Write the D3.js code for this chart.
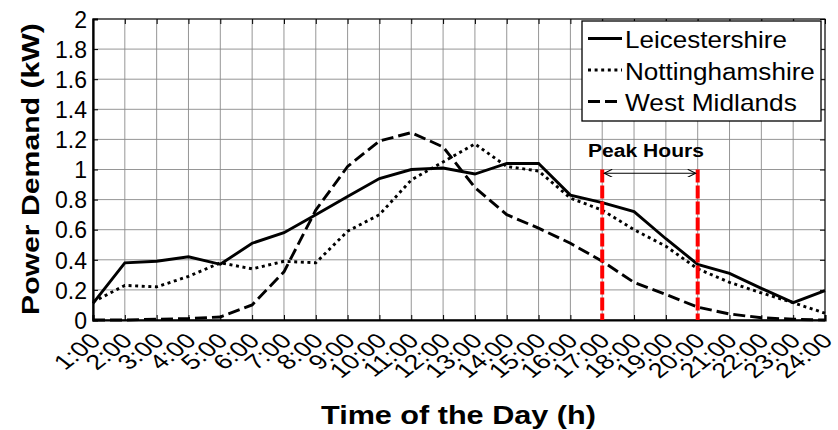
<!DOCTYPE html>
<html><head><meta charset="utf-8">
<script src="https://cdn.jsdelivr.net/npm/d3@7"></script>
<style>body{margin:0;background:#fff}svg{display:block}text{font-family:"Liberation Sans",Arial,sans-serif}</style>
</head><body><svg id="c" width="838" height="430"></svg>
<script>
const hours = ["1:00","2:00","3:00","4:00","5:00","6:00","7:00","8:00","9:00","10:00","11:00","12:00","13:00","14:00","15:00","16:00","17:00","18:00","19:00","20:00","21:00","22:00","23:00","24:00"];
const leicestershire = [0.11,0.38,0.39,0.42,0.37,0.51,0.58,0.70,0.82,0.94,1.00,1.01,0.97,1.04,1.04,0.83,0.78,0.72,0.54,0.37,0.31,0.21,0.115,0.195];
const nottinghamshire = [0.12,0.23,0.22,0.29,0.38,0.34,0.39,0.38,0.59,0.70,0.93,1.05,1.17,1.02,0.99,0.81,0.73,0.60,0.49,0.34,0.25,0.18,0.115,0.045];
const westMidlands = [0.0,0.0,0.005,0.01,0.02,0.10,0.32,0.73,1.02,1.19,1.245,1.15,0.88,0.70,0.61,0.51,0.39,0.25,0.17,0.085,0.04,0.015,0.005,0.0];
const yTicks = [0,0.2,0.4,0.6,0.8,1,1.2,1.4,1.6,1.8,2];
const peakStart = "17:00", peakEnd = "20:00";
const seriesNames = ["Leicestershire","Nottinghamshire","West Midlands"];

const svg = d3.select("#c");
const L=93, R=825, T=19, B=320;
const x = d3.scalePoint().domain(hours).range([L,R]);
const y = d3.scaleLinear().domain([0,2]).range([B,T]);

// stretch text horizontally (in its own frame) to a target length
function fit(sel, pre, target){
  const w = sel.node().getComputedTextLength();
  sel.attr("transform", `${pre} scale(${target/w},1)`);
}

// grid
const g = svg.append("g");
g.selectAll(".vg").data(hours).join("line").attr("x1",d=>x(d)).attr("x2",d=>x(d)).attr("y1",T).attr("y2",B).attr("stroke","#8a8a8a").attr("stroke-width",0.9);
g.selectAll(".hg").data(yTicks).join("line").attr("x1",L).attr("x2",R).attr("y1",d=>y(d)).attr("y2",d=>y(d)).attr("stroke","#8a8a8a").attr("stroke-width",0.9);

// frame
svg.append("rect").attr("x",L).attr("y",T).attr("width",R-L).attr("height",B-T).attr("fill","none").attr("stroke","#000").attr("stroke-width",1);

// axes
const xAx = svg.append("g").attr("transform",`translate(0,${B})`).call(d3.axisBottom(x).tickSize(-5).tickFormat(""));
xAx.select(".domain").attr("stroke-width",2.2);
const yAx = svg.append("g").attr("transform",`translate(${L},0)`).call(d3.axisLeft(y).tickValues(yTicks).tickSize(-5).tickPadding(6).tickFormat(d3.format("~g")));
yAx.select(".domain").attr("stroke-width",2.2);
yAx.selectAll("text").attr("font-size",23).attr("fill","#000").attr("font-family","Liberation Sans, Arial, sans-serif").attr("dy","0.36em");
svg.append("g").attr("transform",`translate(0,${T})`).call(d3.axisTop(x).tickSize(-5).tickFormat("")).select(".domain").remove();
svg.append("g").attr("transform",`translate(${R},0)`).call(d3.axisRight(y).tickValues(yTicks).tickSize(-5).tickFormat("")).select(".domain").remove();

// x labels rotated
svg.append("g").selectAll("text").data(hours).join("text")
  .attr("transform",d=>`translate(${x(d)+9},${B+22}) scale(1.28,1) rotate(-45)`)
  .attr("text-anchor","end").attr("font-size",21).text(d=>d);

// lines
const line = d3.line().x((d,i)=>x(hours[i])).y(d=>y(d));
const styles = [null,"3,3.6","12,5"];
[leicestershire,nottinghamshire,westMidlands].forEach((s,i)=>{
  svg.append("path").datum(s).attr("d",line).attr("fill","none").attr("stroke","#000")
    .attr("stroke-width",2.9).attr("stroke-dasharray",styles[i]);
});

// peak hours
[peakStart,peakEnd].forEach(h=>{
  svg.append("line").attr("x1",x(h)).attr("x2",x(h)).attr("y1",y(1.0)).attr("y2",B).attr("stroke","#f00").attr("stroke-width",4).attr("stroke-dasharray","13,3");
});
const defs = svg.append("defs");
defs.append("marker").attr("id","ah").attr("viewBox","0 0 10 10").attr("refX",10).attr("refY",5).attr("markerWidth",11).attr("markerHeight",8).attr("orient","auto-start-reverse").attr("markerUnits","userSpaceOnUse")
  .append("path").attr("d","M0,0 L10,5 L0,10").attr("fill","none").attr("stroke","#000").attr("stroke-width",1.3);
svg.append("line").attr("x1",x(peakStart)+2).attr("x2",x(peakEnd)-2).attr("y1",y(0.975)).attr("y2",y(0.975)).attr("stroke","#000").attr("stroke-width",1.1)
  .attr("marker-start","url(#ah)").attr("marker-end","url(#ah)");
const pk = svg.append("text").attr("font-size",18.5).attr("font-weight","bold").text("Peak Hours");
fit(pk, "translate(588,157)", 116);

// legend
const lg = svg.append("g");
lg.append("rect").attr("x",582).attr("y",21).attr("width",239).attr("height",100).attr("fill","#fff").attr("stroke","#000").attr("stroke-width",1.3);
const legLens = [162,190,172];
seriesNames.forEach((n,i)=>{
  const yy = 38.5+i*31.5;
  lg.append("line").attr("x1",588).attr("x2",622).attr("y1",yy).attr("y2",yy).attr("stroke","#000").attr("stroke-width",2.9).attr("stroke-dasharray",styles[i]);
  const t = lg.append("text").attr("font-size",23).text(n);
  fit(t, `translate(625,${yy+9.5})`, legLens[i]);
});

// axis titles
const xt = svg.append("text").attr("font-size",25.5).attr("font-weight","bold").text("Time of the Day (h)");
fit(xt, "translate(321,424)", 275);
const yt = svg.append("text").attr("font-size",24).attr("font-weight","bold").text("Power Demand (kW)");
fit(yt, "translate(39,315) rotate(-90)", 292);
</script></body></html>
